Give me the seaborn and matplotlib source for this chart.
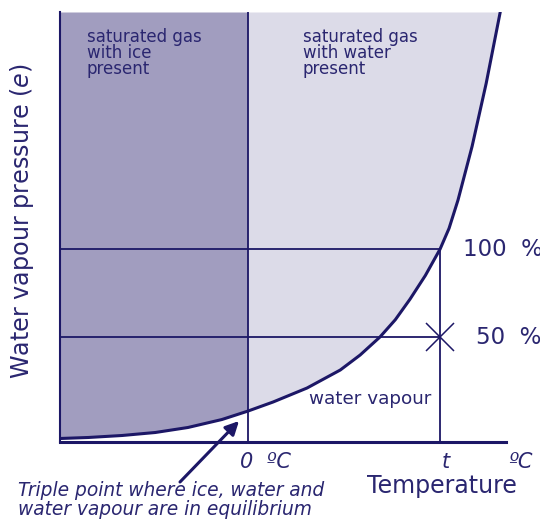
import matplotlib
matplotlib.use("Agg")
import matplotlib.pyplot as plt
import pandas as pd
import seaborn as sns

# Saturation curve (temperature in degC, pressure in hPa-ish units)
temp = [-29.4, -25.0, -19.7, -14.5, -9.4, -4.1, 0.0, 3.9, 9.2, 14.4, 17.5, 20.6,
        23.0, 25.3, 27.7, 30.0, 31.4, 32.8, 35.0, 37.2, 39.4]
e_sat = [0.77, 0.99, 1.43, 2.09, 3.19, 4.94, 6.81, 8.79, 11.86, 15.82, 19.11, 23.07,
         26.87, 31.39, 36.6, 42.4, 46.95, 53.17, 64.96, 78.8, 94.5]

t_mark = 30.0        # the temperature "t"
e_100 = 42.4         # 100 % level
e_50 = 23.1          # 50 % level
x_range = [-29.4, 40.3]
y_range = [0.0, 94.5]

navy = "#1c1766"
text_col = "#2a2670"
ice_col = "#a19dbf"
water_col = "#dcdbe8"

sns.set_style("white")
plt.rcParams["font.family"] = ["DejaVu Sans"]
plt.rcParams["mathtext.fontset"] = "dejavusans"

df = pd.DataFrame({"temp": temp, "e": e_sat})

fig = plt.figure(figsize=(5.4, 5.2), dpi=100)
ax = fig.add_axes([60 / 540, 1 - 442 / 520, 446 / 540, 430 / 520])

# shaded regions above the curve
ice = df[df.temp <= 0]
water = df[df.temp >= 0]
ax.fill_between(ice.temp, ice.e, y_range[1], color=ice_col, lw=0)
ax.fill_between(water.temp, water.e, y_range[1], color=water_col, lw=0)

# saturation curve
sns.lineplot(data=df, x="temp", y="e", ax=ax, color=navy, lw=2.2, estimator=None,
             solid_joinstyle="round")

# guide lines
ax.plot([0, 0], y_range, color=navy, lw=1.3)
ax.plot([x_range[0], t_mark], [e_100, e_100], color=navy, lw=1.3)
ax.plot([x_range[0], t_mark], [e_50, e_50], color=navy, lw=1.3)
ax.plot([t_mark, t_mark], [0, e_100], color=navy, lw=1.3)
ax.plot(t_mark, e_50, marker="x", ms=20, mew=1.1, color=navy)

ax.set_xlim(x_range)
ax.set_ylim(y_range)
ax.set_xticks([])
ax.set_yticks([])
ax.set_xlabel("")
ax.set_ylabel("")
sns.despine(ax=ax)
ax.spines["left"].set_color(navy)
ax.spines["left"].set_linewidth(1.5)
ax.spines["bottom"].set_color(navy)
ax.spines["bottom"].set_linewidth(2.2)

# labels inside the plot
ax.text(-25.2, 91.0, "saturated gas\nwith ice\npresent", color=text_col, fontsize=12,
        va="top", ha="left", linespacing=0.85)
ax.text(8.5, 91.0, "saturated gas\nwith water\npresent", color=text_col, fontsize=12,
        va="top", ha="left", linespacing=0.85)
ax.text(9.5, 9.5, "water vapour", color=text_col, fontsize=13.2, va="center", ha="left")

# figure-level texts (pixel positions)
def ftext(x, y, s, **kw):
    fig.text(x / 540, 1 - y / 520, s, color=text_col, **kw)

ftext(463, 249, "100  %", fontsize=16.5, va="center", ha="left")
ftext(476, 337, "50  %", fontsize=16.5, va="center", ha="left")
ftext(240, 462, "0  ºC", fontsize=15, style="italic", va="center", ha="left")
ftext(442, 462, "t", fontsize=15, style="italic", va="center", ha="left")
ftext(508, 462, "ºC", fontsize=15, style="italic", va="center", ha="left")
ftext(367, 486, "Temperature", fontsize=17, va="center", ha="left")
ftext(22, 221, "Water vapour pressure ($\\it{e}$)", fontsize=17.2, rotation=90,
      va="center", ha="center")
ftext(18, 500, "Triple point where ice, water and\nwater vapour are in equilibrium",
      fontsize=13.4, style="italic", va="center", ha="left", linespacing=0.95)

ax.annotate("", xy=(239 / 540, 1 - 421 / 520), xycoords="figure fraction",
            xytext=(180 / 540, 1 - 482 / 520), textcoords="figure fraction",
            arrowprops=dict(arrowstyle="-|>", color=navy, lw=2.2,
                            mutation_scale=20, shrinkA=0, shrinkB=0),
            annotation_clip=False)

fig.savefig("out.png", dpi=100)
